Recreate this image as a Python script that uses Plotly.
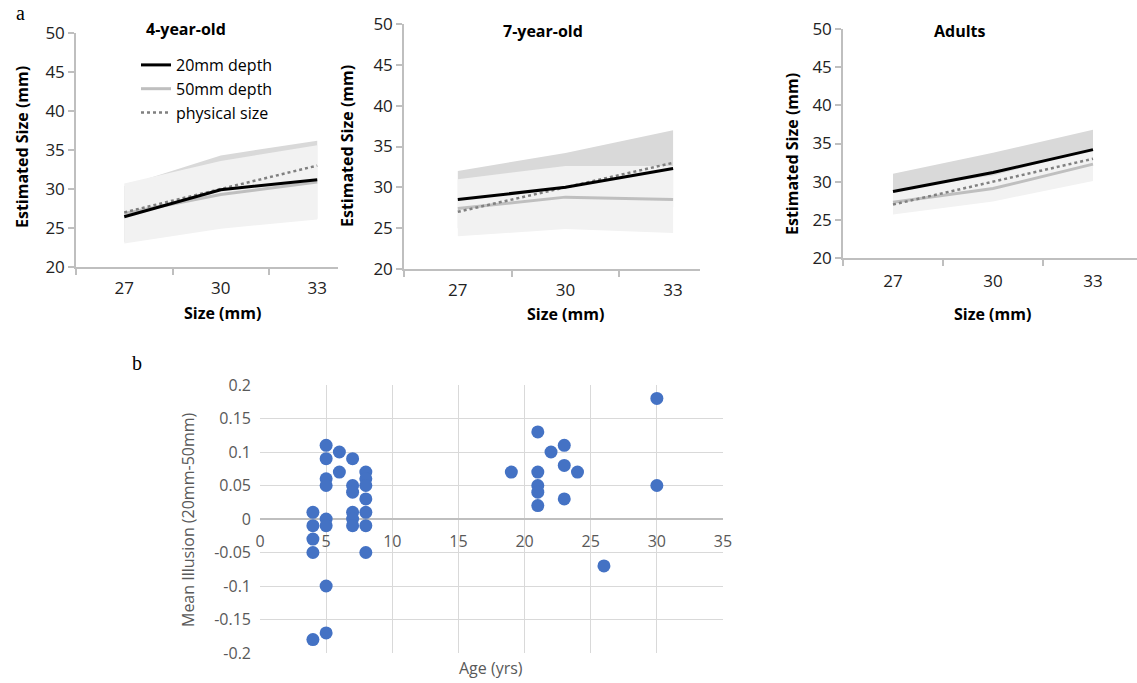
import plotly.graph_objects as go

W, H = 1137, 683

# ---------------- data ----------------
sizes = ["27", "30", "33"]
physical = [27, 30, 33]

panels = ["4-year-old", "7-year-old", "Adults"]

mean20 = {
    "4-year-old": [26.45, 29.9, 31.2],
    "7-year-old": [28.5, 30.0, 32.3],
    "Adults": [28.7, 31.2, 34.2],
}
mean50 = {
    "4-year-old": [26.85, 29.3, 30.9],
    "7-year-old": [27.4, 28.8, 28.5],
    "Adults": [27.3, 29.1, 32.3],
}
band20_hi = {
    "4-year-old": [30.4, 34.3, 36.2],
    "7-year-old": [32.0, 34.2, 37.0],
    "Adults": [31.05, 33.8, 36.8],
}
band20_lo = {
    "4-year-old": [23.2, 25.5, 26.2],
    "7-year-old": [25.0, 25.8, 27.6],
    "Adults": [26.35, 28.6, 31.6],
}
band50_hi = {
    "4-year-old": [30.7, 33.6, 35.6],
    "7-year-old": [31.0, 32.6, 32.6],
    "Adults": [28.9, 30.8, 34.3],
}
band50_lo = {
    "4-year-old": [23.0, 24.9, 26.1],
    "7-year-old": [24.0, 24.9, 24.4],
    "Adults": [25.7, 27.4, 30.1],
}

ages = [4, 4, 4, 4, 4,
        5, 5, 5, 5, 5, 5, 5, 5,
        6, 6,
        7, 7, 7, 7, 7, 7,
        8, 8, 8, 8, 8, 8, 8,
        19, 21, 21, 21, 21, 21, 22, 23, 23, 23, 24, 26, 30, 30]
illusion = [0.01, -0.01, -0.03, -0.05, -0.18,
            0.11, 0.09, 0.06, 0.05, 0.00, -0.01, -0.10, -0.17,
            0.10, 0.07,
            0.09, 0.05, 0.04, 0.01, 0.00, -0.01,
            0.07, 0.06, 0.05, 0.03, 0.01, -0.01, -0.05,
            0.07, 0.13, 0.07, 0.05, 0.04, 0.02, 0.10, 0.11, 0.08, 0.03, 0.07, -0.07, 0.18, 0.05]

y_ticks_b = [0.2, 0.15, 0.1, 0.05, 0, -0.05, -0.1, -0.15, -0.2]
y_ticktext_b = ["0.2", "0.15", "0.1", "0.05", "0", "-0.05", "-0.1", "-0.15", "-0.2"]

# ---------------- layout helpers ----------------
def px(x):
    return x / W

def py(y):
    return 1 - y / H

FONT = "'Open Sans', sans-serif"
AX_COL = "#bfbfbf"

# panel geometry (pixels): left, right, y50 (top), y20 (bottom), x-range right end
geom = {
    "4-year-old": dict(l=76, r=338, t=33, b=267, xr=2.215, so=5),
    "7-year-old": dict(l=404, r=700, t=24, b=269, xr=2.25, so=5),
    "Adults": dict(l=843, r=1137, t=29, b=258, xr=2.44, so=7),
}
title_pos = {"4-year-old": (186, 29), "7-year-old": (543, 31), "Adults": (960, 31)}
xtitle_pos = {"4-year-old": (222, 313), "7-year-old": (565, 314), "Adults": (992, 314)}
ytitle_pos = {"4-year-old": (22, 147), "7-year-old": (347, 146), "Adults": (792, 154)}

fig = go.Figure()
layout = dict(template="none", width=W, height=H, autosize=False,
              margin=dict(l=0, r=0, t=0, b=0, pad=0),
              paper_bgcolor="white", plot_bgcolor="white", showlegend=True,
              font=dict(family=FONT, color="#222"))
annotations = []

for i, p in enumerate(panels, start=1):
    xa = "x" if i == 1 else f"x{i}"
    ya = "y" if i == 1 else f"y{i}"
    g = geom[p]
    # dark band (20mm)
    fig.add_trace(go.Scatter(x=sizes + sizes[::-1], y=band20_hi[p] + band20_lo[p][::-1],
                             fill="toself", fillcolor="#d9d9d9", line=dict(width=0),
                             mode="lines", showlegend=False, hoverinfo="skip",
                             xaxis=xa, yaxis=ya))
    # light band (50mm)
    fig.add_trace(go.Scatter(x=sizes + sizes[::-1], y=band50_hi[p] + band50_lo[p][::-1],
                             fill="toself", fillcolor="#f2f2f2", line=dict(width=0),
                             mode="lines", showlegend=False, hoverinfo="skip",
                             xaxis=xa, yaxis=ya))
    fig.add_trace(go.Scatter(x=sizes, y=mean50[p], mode="lines", name="50mm depth",
                             line=dict(color="#bfbfbf", width=3), showlegend=False,
                             xaxis=xa, yaxis=ya))
    fig.add_trace(go.Scatter(x=sizes, y=physical, mode="lines", name="physical size",
                             line=dict(color="#808080", width=2.5, dash="dot"), showlegend=False,
                             xaxis=xa, yaxis=ya))
    fig.add_trace(go.Scatter(x=sizes, y=mean20[p], mode="lines", name="20mm depth",
                             line=dict(color="black", width=3), showlegend=False,
                             xaxis=xa, yaxis=ya))

    xkey = "xaxis" if i == 1 else f"xaxis{i}"
    ykey = "yaxis" if i == 1 else f"yaxis{i}"
    layout[xkey] = dict(domain=[px(g["l"]), px(g["r"])], anchor=ya, type="category",
                        range=[-0.5, g["xr"]], tickson="boundaries", ticks="outside",
                        ticklen=6, tickcolor=AX_COL, tickwidth=1.5, showline=True,
                        linecolor=AX_COL, linewidth=1.5, showgrid=False, zeroline=False,
                        automargin=False,
                        tickfont=dict(size=17, color="#222"), ticklabelstandoff=g["so"])
    layout[ykey] = dict(domain=[py(g["b"]), py(g["t"])], anchor=xa, range=[20, 50],
                        tickvals=[20, 25, 30, 35, 40, 45, 50], ticks="outside", ticklen=6,
                        tickcolor=AX_COL, tickwidth=1.5, showline=True, linecolor=AX_COL,
                        linewidth=1.5, showgrid=False, zeroline=False, automargin=False,
                        tickfont=dict(size=17, color="#222"))
    tx, ty = title_pos[p]
    annotations.append(dict(text=f"<b>{p}</b>", x=px(tx), y=py(ty), xref="paper", yref="paper",
                            showarrow=False, font=dict(size=16, color="black"),
                            xanchor="center", yanchor="middle"))
    tx, ty = xtitle_pos[p]
    annotations.append(dict(text="<b>Size (mm)</b>", x=px(tx), y=py(ty), xref="paper", yref="paper",
                            showarrow=False, font=dict(size=16, color="black"),
                            xanchor="center", yanchor="middle"))
    tx, ty = ytitle_pos[p]
    annotations.append(dict(text="<b>Estimated Size (mm)</b>", x=px(tx), y=py(ty), xref="paper",
                            yref="paper", showarrow=False, textangle=-90,
                            font=dict(size=16, color="black"), xanchor="center", yanchor="middle"))

# legend entries (panel a, 4-year-old)
for nm, ln in [("20mm depth", dict(color="black", width=3)),
               ("50mm depth", dict(color="#bfbfbf", width=3)),
               ("physical size", dict(color="#808080", width=2.5, dash="dot"))]:
    fig.add_trace(go.Scatter(x=[None], y=[None], mode="lines", name=nm, line=ln,
                             xaxis="x", yaxis="y", showlegend=True))

layout["legend"] = dict(x=px(136), y=py(48), xanchor="left", yanchor="top",
                        bgcolor="rgba(0,0,0,0)", font=dict(size=16, color="black"),
                        traceorder="normal", itemwidth=30, tracegroupgap=0)

# ---------------- panel b ----------------
bl, br, bt, bb = 260, 723, 385, 653
fig.add_trace(go.Scatter(x=ages, y=illusion, mode="markers",
                         marker=dict(color="#4472c4", size=13, line=dict(width=0)),
                         showlegend=False, xaxis="x4", yaxis="y4"))
mid = (py(bt) + py(bb)) / 2
layout["xaxis4"] = dict(domain=[px(bl), px(br)], anchor="free", position=mid,
                        range=[0, 35], tickvals=[0, 5, 10, 15, 20, 25, 30, 35],
                        showgrid=True, gridcolor="#d9d9d9", gridwidth=1.3,
                        zeroline=False, showline=False, ticks="", automargin=False,
                        tickfont=dict(size=16, color="#595959"), ticklabelstandoff=11)
layout["yaxis4"] = dict(domain=[py(bb), py(bt)], anchor="x4", range=[-0.2, 0.2],
                        tickvals=y_ticks_b, ticktext=y_ticktext_b,
                        showgrid=True, gridcolor="#d9d9d9", gridwidth=1.3,
                        zeroline=True, zerolinecolor="#bfbfbf", zerolinewidth=1.5,
                        showline=False, ticks="", ticklabelstandoff=8, automargin=False,
                        tickfont=dict(size=16, color="#595959"))

annotations.append(dict(text="Mean Illusion (20mm-50mm)", x=px(188), y=py(520), xref="paper",
                        yref="paper", showarrow=False, textangle=-90,
                        font=dict(size=16, color="#595959"), xanchor="center", yanchor="middle"))
annotations.append(dict(text="Age (yrs)", x=px(491), y=py(668), xref="paper", yref="paper",
                        showarrow=False, font=dict(size=16, color="#595959"),
                        xanchor="center", yanchor="middle"))
annotations.append(dict(text="a", x=px(20), y=py(13), xref="paper", yref="paper", showarrow=False,
                        font=dict(size=20, color="black", family="Liberation Serif, serif"),
                        xanchor="center", yanchor="middle"))
annotations.append(dict(text="b", x=px(137), y=py(363), xref="paper", yref="paper", showarrow=False,
                        font=dict(size=20, color="black", family="Liberation Serif, serif"),
                        xanchor="center", yanchor="middle"))

layout["annotations"] = annotations
fig.update_layout(**layout)
fig.write_html("out.html", config={"displayModeBar": False},
               post_script="document.body.style.margin='0';document.body.style.overflow='hidden';")
